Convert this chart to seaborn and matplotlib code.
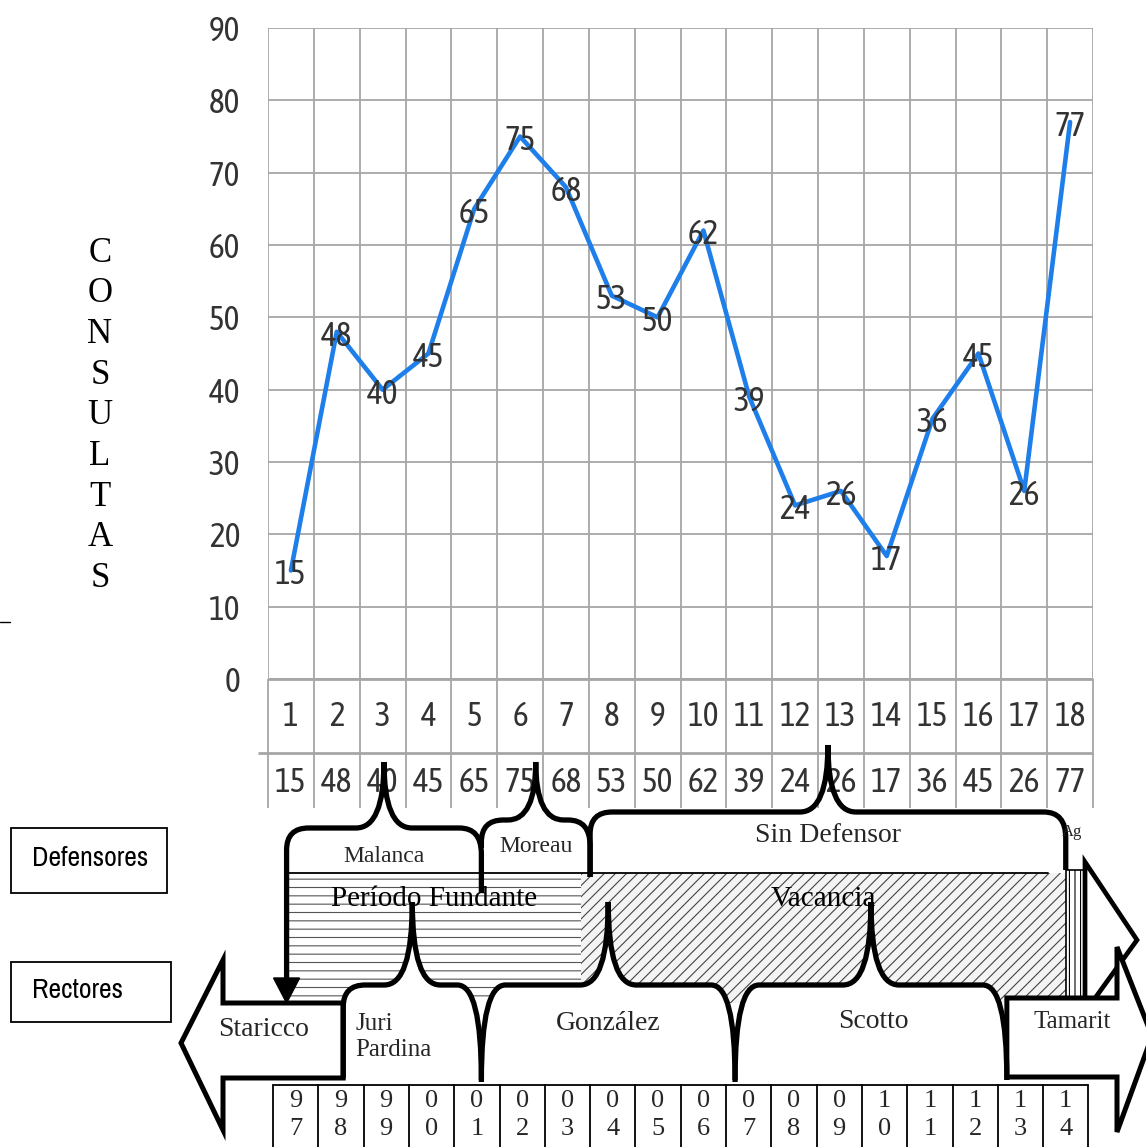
import numpy as np
import matplotlib
matplotlib.use('Agg')
import matplotlib.pyplot as plt
from matplotlib.path import Path
from matplotlib.patches import PathPatch, Polygon, Rectangle
import seaborn as sns

# datos
meses = list(range(1, 19))
consultas = [15, 48, 40, 45, 65, 75, 68, 53, 50, 62, 39, 24, 26, 17, 36, 45, 26, 77]
anios = ['97', '98', '99', '00', '01', '02', '03', '04', '05',
         '06', '07', '08', '09', '10', '11', '12', '13', '14']

defensores = ['Malanca', 'Moreau', 'Sin Defensor']
def_desde = [1997.3, 2001.6, 2004.0]
def_hasta = [2001.6, 2004.0, 2014.5]

rectores = ['Staricco', 'Juri\nPardina', 'González', 'Scotto', 'Tamarit']
rec_desde = [1995.0, 1998.55, 2001.6, 2007.2, 2013.2]
rec_hasta = [1998.55, 2001.6, 2007.2, 2013.2, 2016.0]

periodos = ['Período Fundante', 'Vacancia']
per_desde = [1997.3, 2003.8]
per_hasta = [2003.8, 2014.5]

sns.set_theme(style='white')
plt.rcParams['font.family'] = ['Asap Condensed', 'Lato', 'DejaVu Sans']
plt.rcParams['hatch.linewidth'] = 0.8

SERIF = ['Liberation Serif', 'DejaVu Serif']
NARROW = ['Archivo Narrow', 'Liberation Sans', 'DejaVu Sans']
GRID = '#a6a6a6'
TXT = '#333333'
BLUE = '#1e7fea'
FS = 24

fig = plt.figure(figsize=(11.46, 11.47), dpi=100)
W, H = 1146, 1147
ax = fig.add_axes([268 / W, 1 - 679 / H, (1093 - 268) / W, (679 - 28) / H])

sns.lineplot(x=meses, y=consultas, ax=ax, color=BLUE, lw=3.3, zorder=3)
ax.set_xlim(0.5, 18.5)
ax.set_ylim(0, 90)
ax.set_yticks(range(0, 91, 10))
ax.set_xticks(np.arange(0.5, 19, 1))
ax.set_xticklabels([])
ax.grid(True, color=GRID, lw=1.3)
ax.tick_params(axis='y', length=0, pad=20, labelsize=FS, labelcolor=TXT)
ax.tick_params(axis='x', length=0)
for s in ax.spines.values():
    s.set_visible(False)
ax.set_xlabel('')
ax.set_ylabel('')

# etiquetas de datos
for m, v in zip(meses, consultas):
    ax.text(m, v - 0.6, str(v), ha='center', va='center', fontsize=FS, color=TXT, zorder=4)

# tabla de datos debajo del grafico
upp = (679 - 28) / 90.0
ax.vlines(np.arange(0.5, 19, 1), -(808 - 679) / upp, 0, colors=GRID, lw=1.3, clip_on=False)
ax.hlines(0, 0.5, 18.5, colors=GRID, lw=2.0, clip_on=False)
ax.hlines(-(753 - 679) / upp, 0.28, 18.5, colors=GRID, lw=2.0, clip_on=False)
for m, v in zip(meses, consultas):
    ax.text(m, -(717 - 679) / upp, str(m), ha='center', va='center', fontsize=FS,
            color=TXT, clip_on=False)
    ax.text(m, -(783 - 679) / upp, str(v), ha='center', va='center', fontsize=FS,
            color=TXT, clip_on=False)

# capa del esquema (coordenadas en pixeles)
ov = fig.add_axes([0, 0, 1, 1], zorder=5)
ov.set_xlim(0, W)
ov.set_ylim(H, 0)
ov.axis('off')


def xa(a):
    return 273 + 45.3 * (a - 1997)


def llave(x0, x1, ytop, ypeak, yend0, yend1, r0, r1, rm, cerrar=None):
    xm = (x0 + x1) / 2
    v = [(x0, yend0), (x0, ytop + r0[1]), (x0, ytop), (x0 + r0[0], ytop),
         (xm - rm, ytop), (xm, ytop), (xm, ypeak), (xm, ytop), (xm + rm, ytop),
         (x1 - r1[0], ytop), (x1, ytop), (x1, ytop + r1[1]), (x1, yend1)]
    c = [Path.MOVETO, Path.LINETO, Path.CURVE3, Path.CURVE3,
         Path.LINETO, Path.CURVE3, Path.CURVE3, Path.CURVE3, Path.CURVE3,
         Path.LINETO, Path.CURVE3, Path.CURVE3, Path.LINETO]
    if cerrar is not None:
        v += [(x1, cerrar), (x0, cerrar), (x0, yend0)]
        c += [Path.LINETO, Path.LINETO, Path.CLOSEPOLY]
    return Path(v, c)


# franja de periodos
hatches = ['--', '///']
fcs = ['white', '#f4f4f4']
ecs = ['#555555', '#444444']
for nom, d, h, ht, fc, ec in zip(periodos, per_desde, per_hasta, hatches, fcs, ecs):
    ov.add_patch(Rectangle((xa(d), 873), xa(h) - xa(d), 1003 - 873, facecolor=fc,
                           edgecolor=ec, hatch=ht, lw=0, zorder=1))
    ov.text((xa(d) + xa(h)) / 2, 899, nom, ha='center', va='center', fontsize=21,
            family=SERIF, color='black', zorder=8)
ov.plot([xa(per_desde[0]), 1048], [873, 873], color='black', lw=1.3, zorder=3)

# Ag
ov.add_patch(Rectangle((xa(def_hasta[-1]), 870), 1085 - xa(def_hasta[-1]), 127,
                       facecolor='white', edgecolor='black', hatch='|||', lw=1.2, zorder=3))
ov.text(1072, 832, 'Ag', ha='center', va='center', fontsize=12, family=SERIF, zorder=8)

# flecha de defensores
ov.add_patch(Polygon([(1085, 862), (1137, 940), (1085, 1012)], closed=True,
                     facecolor='white', edgecolor='black', lw=3.4, joinstyle='miter', zorder=3))

# llaves de defensores
d_top = [828, 820, 812]
d_peak = [762, 762, 745]
d_end0 = [985, 848, 877]
d_end1 = [893, 877, 870]
d_txt = [857, 847, 835]
d_fs = [17, 17, 20]
for i, nom in enumerate(defensores):
    x0, x1 = xa(def_desde[i]), xa(def_hasta[i])
    p = llave(x0, x1, d_top[i], d_peak[i], d_end0[i], d_end1[i],
              (22, 22), (22, 26), 28)
    ov.add_patch(PathPatch(p, facecolor='none', edgecolor='black', lw=3.8,
                           capstyle='butt', zorder=6))
    ov.text((x0 + x1) / 2, d_txt[i], nom, ha='center', va='center', fontsize=d_fs[i],
            family=SERIF, zorder=8)
# punta de flecha hacia Staricco
x0 = xa(def_desde[0])
ov.add_patch(Polygon([(x0 - 13, 978), (x0 + 13, 978), (x0, 1003)], closed=True,
                     facecolor='black', edgecolor='black', lw=1, zorder=6))

# llaves de rectores (Juri Pardina, Gonzalez, Scotto)
for i in range(1, 4):
    x0, x1 = xa(rec_desde[i]), xa(rec_hasta[i])
    r0 = (22, 22) if i == 1 else (24, 95)
    r1 = (24, 95)
    e0 = 1078 if i == 1 else 1082
    p = llave(x0, x1, 985, 902, e0, 1080, r0, r1, 28, cerrar=1090)
    ov.add_patch(PathPatch(p, facecolor='white', edgecolor='none', zorder=2))
    p = llave(x0, x1, 985, 902, e0, 1080, r0, r1, 28)
    ov.add_patch(PathPatch(p, facecolor='none', edgecolor='black', lw=3.8, zorder=6))

# flechas Staricco y Tamarit
xs = xa(rec_hasta[0])
ov.add_patch(Polygon([(xs, 1003), (223, 1003), (223, 960), (181, 1043), (223, 1130),
                      (223, 1078), (xs, 1078)], closed=True, facecolor='white',
                     edgecolor='black', lw=3.6, joinstyle='miter', zorder=5))
xt = xa(rec_desde[-1])
ov.add_patch(Polygon([(xt, 998), (1117, 998), (1117, 947), (1152, 1036), (1117, 1132),
                      (1117, 1077), (xt, 1077)], closed=True, facecolor='white',
                     edgecolor='black', lw=3.6, joinstyle='miter', zorder=5))

# nombres de rectores
ov.text(264, 1030, rectores[0], ha='center', va='center', fontsize=20, family=SERIF, zorder=8)
ov.text(355, 1037, rectores[1], ha='left', va='center', fontsize=18, family=SERIF,
        linespacing=1.2, zorder=8)
ov.text(608, 1023, rectores[2], ha='center', va='center', fontsize=20, family=SERIF, zorder=8)
ov.text(873, 1022, rectores[3], ha='center', va='center', fontsize=20, family=SERIF, zorder=8)
ov.text(1072, 1022, rectores[4], ha='center', va='center', fontsize=18, family=SERIF, zorder=8)

# tabla de anios
for k, a in enumerate(anios):
    xl = xa(1997 + k)
    ov.plot([xl, xl], [1085, H + 2], color='black', lw=1.3, zorder=5)
    ov.text(xl + 22.6, 1101, a[0], ha='center', va='center', fontsize=19, family=SERIF, zorder=8)
    ov.text(xl + 22.6, 1129, a[1], ha='center', va='center', fontsize=19, family=SERIF, zorder=8)
ov.plot([xa(2015), xa(2015)], [1085, H + 2], color='black', lw=1.3, zorder=5)
ov.plot([xa(1997), xa(2015)], [1085, 1085], color='black', lw=1.3, zorder=5)

# cajas de referencia
ov.add_patch(Rectangle((11, 828), 156, 65, facecolor='white', edgecolor='black', lw=1.3, zorder=5))
ov.text(32, 859, 'Defensores', ha='left', va='center', fontsize=20, family=NARROW,
        color='black', zorder=8)
ov.add_patch(Rectangle((11, 962), 160, 60, facecolor='white', edgecolor='black', lw=1.3, zorder=5))
ov.text(32, 990, 'Rectores', ha='left', va='center', fontsize=20, family=NARROW,
        color='black', zorder=8)

# titulo del eje vertical
for j, letra in enumerate('CONSULTAS'):
    ov.text(100, 253 + 40.7 * j, letra, ha='center', va='center', fontsize=25,
            family=SERIF, color='black')
ov.plot([0, 10], [622, 622], color='black', lw=1)

fig.savefig('out.png', dpi=100)
